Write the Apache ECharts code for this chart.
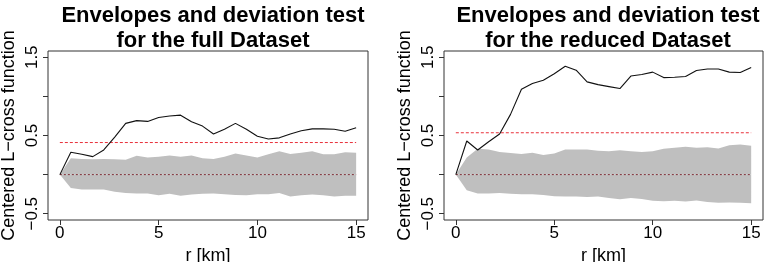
<!DOCTYPE html>
<html>
<head>
<meta charset="utf-8">
<script src="https://cdn.jsdelivr.net/npm/echarts@6/dist/echarts.min.js"></script>
<style>
  html, body { margin: 0; padding: 0; background: #fff; }
  #chart { width: 771px; height: 262px; }
</style>
</head>
<body>
<div id="chart"></div>
<script>
// r grid (km), 28 steps of 15/27
const rKm = [0, 0.556, 1.111, 1.667, 2.222, 2.778, 3.333, 3.889, 4.444, 5.0, 5.556, 6.111, 6.667, 7.222,
  7.778, 8.333, 8.889, 9.444, 10.0, 10.556, 11.111, 11.667, 12.222, 12.778, 13.333, 13.889, 14.444, 15.0];

// full dataset
const fullObs = [0, 0.285, 0.26, 0.23, 0.315, 0.48, 0.655, 0.69, 0.68, 0.73, 0.75, 0.76, 0.675, 0.62,
  0.52, 0.58, 0.655, 0.58, 0.49, 0.455, 0.47, 0.52, 0.56, 0.585, 0.585, 0.58, 0.555, 0.6];
const fullHi = [0, 0.21, 0.2, 0.195, 0.2, 0.195, 0.19, 0.24, 0.22, 0.23, 0.245, 0.23, 0.245, 0.21,
  0.2, 0.23, 0.27, 0.245, 0.22, 0.26, 0.3, 0.265, 0.28, 0.3, 0.26, 0.26, 0.285, 0.28];
const fullLo = [0, -0.17, -0.19, -0.19, -0.19, -0.22, -0.235, -0.24, -0.24, -0.265, -0.245, -0.27, -0.255, -0.245,
  -0.24, -0.25, -0.26, -0.265, -0.25, -0.25, -0.235, -0.28, -0.265, -0.255, -0.265, -0.28, -0.27, -0.27];
const fullCrit = 0.41;

// reduced dataset
const redObs = [0, 0.43, 0.315, 0.42, 0.52, 0.77, 1.09, 1.165, 1.205, 1.29, 1.385, 1.335, 1.185, 1.15,
  1.125, 1.1, 1.26, 1.28, 1.31, 1.24, 1.245, 1.255, 1.33, 1.35, 1.35, 1.31, 1.305, 1.37];
const redHi = [0, 0.22, 0.33, 0.32, 0.29, 0.275, 0.265, 0.28, 0.25, 0.27, 0.32, 0.32, 0.32, 0.305,
  0.3, 0.31, 0.3, 0.29, 0.3, 0.33, 0.345, 0.355, 0.345, 0.35, 0.335, 0.375, 0.385, 0.37];
const redLo = [0, -0.2, -0.24, -0.24, -0.235, -0.245, -0.25, -0.25, -0.26, -0.275, -0.28, -0.28, -0.285, -0.28,
  -0.3, -0.315, -0.3, -0.31, -0.335, -0.34, -0.335, -0.345, -0.33, -0.35, -0.36, -0.355, -0.36, -0.365];
const redCrit = 0.535;

const xTicks = [0, 5, 10, 15];
const yTicks = [-0.5, 0, 0.5, 1, 1.5];
const yLabels = [-0.5, 0.5, 1.5];

const FONT = '"Liberation Sans", Arial, sans-serif';
const GREY = '#bfbfbf';

const pairs = (ys) => ys.map((y, i) => [rKm[i], y]);

function panelAxes(idx) {
  return {
    x: {
      type: 'value', gridIndex: idx, min: -0.6, max: 15.6,
      name: 'r [km]', nameLocation: 'middle', nameGap: 23,
      nameTextStyle: { fontFamily: FONT, fontSize: 18, color: '#000' },
      axisLine: { show: false, onZero: false },
      axisTick: { show: true, inside: false, length: 5, customValues: xTicks, lineStyle: { color: '#333' } },
      axisLabel: { customValues: xTicks, margin: 5, fontFamily: FONT, fontSize: 17, color: '#000' },
      splitLine: { show: false },
    },
    y: {
      type: 'value', gridIndex: idx, min: -0.58, max: 1.58,
      name: 'Centered L\u2212cross function', nameLocation: 'middle', nameGap: 30, nameRotate: 90,
      nameTextStyle: { fontFamily: FONT, fontSize: 18, color: '#000' },
      axisLine: { show: false, onZero: false },
      axisTick: { show: true, inside: false, length: 5, customValues: yTicks, lineStyle: { color: '#333' } },
      axisLabel: {
        customValues: yLabels, rotate: 90, margin: 7, fontFamily: FONT, fontSize: 17, color: '#000',
        formatter: (v) => String(v).replace('-', '\u2212'),
      },
      splitLine: { show: false },
    },
  };
}

function panelSeries(idx, obs, hi, lo, crit) {
  const base = { xAxisIndex: idx, yAxisIndex: idx, symbol: 'none', silent: true, animation: false };
  return [
    { ...base, type: 'line', data: pairs(hi), lineStyle: { width: 0 }, areaStyle: { color: GREY, opacity: 1 } },
    { ...base, type: 'line', data: pairs(lo), lineStyle: { width: 0 }, areaStyle: { color: GREY, opacity: 1 } },
    { ...base, type: 'line', data: [[0, crit], [15, crit]], lineStyle: { color: '#e8303a', width: 1, type: [3, 2] } },
    { ...base, type: 'line', data: [[0, 0], [15, 0]], lineStyle: { color: '#7e2e36', width: 1, type: [2, 2] } },
    { ...base, type: 'line', data: pairs(obs), lineStyle: { color: '#111', width: 1.1 } },
  ];
}

const a0 = panelAxes(0);
const a1 = panelAxes(1);

const gridBase = { top: 51, height: 169, show: true, borderColor: '#333', borderWidth: 1, backgroundColor: 'transparent', containLabel: false, outerBoundsMode: 'none' };

const chart = echarts.init(document.getElementById('chart'), null, { renderer: 'canvas' });
chart.setOption({
  backgroundColor: '#fff',
  animation: false,
  title: [
    {
      text: 'Envelopes and deviation test\nfor the full Dataset', left: 208, top: -2, textAlign: 'center',
      textStyle: { fontFamily: FONT, fontSize: 22, fontWeight: 'bold', color: '#000', lineHeight: 25 },
    },
    {
      text: 'Envelopes and deviation test\nfor the reduced Dataset', left: 603, top: -2, textAlign: 'center',
      textStyle: { fontFamily: FONT, fontSize: 22, fontWeight: 'bold', color: '#000', lineHeight: 25 },
    },
  ],
  grid: [
    { ...gridBase, left: 48, width: 320 },
    { ...gridBase, left: 444, width: 319 },
  ],
  xAxis: [a0.x, a1.x],
  yAxis: [a0.y, a1.y],
  series: [
    ...panelSeries(0, fullObs, fullHi, fullLo, fullCrit),
    ...panelSeries(1, redObs, redHi, redLo, redCrit),
  ],
});
</script>
</body>
</html>
